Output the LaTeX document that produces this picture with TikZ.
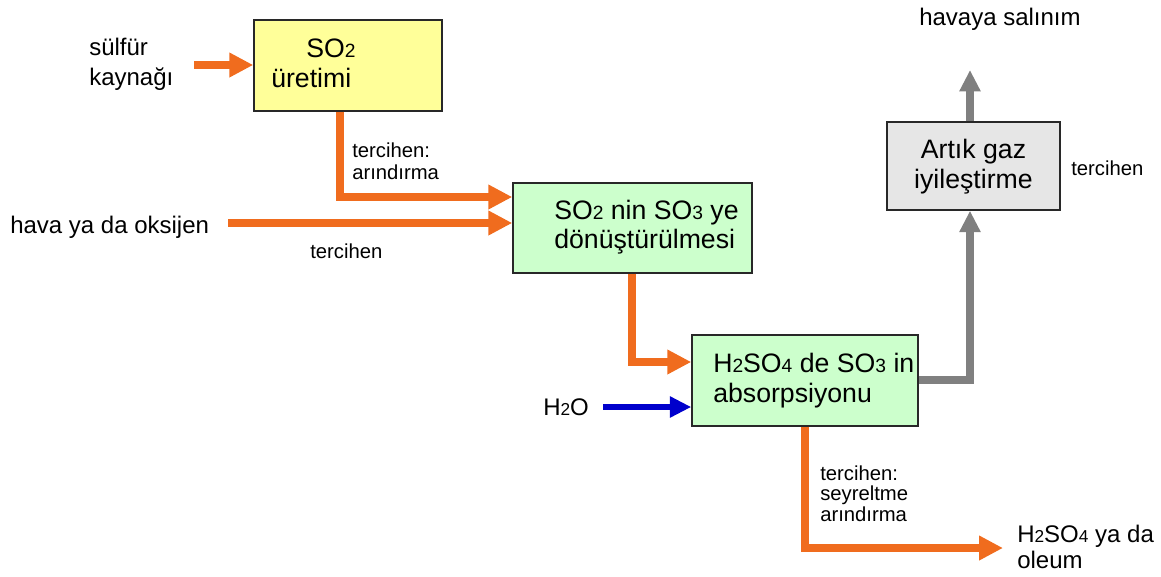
\documentclass[tikz,border=0pt]{standalone}
\usepackage{fontspec}
\setmainfont{Liberation Sans}
\usetikzlibrary{arrows.meta}

\definecolor{flowor}{RGB}{240,108,30}
\definecolor{flowgr}{RGB}{128,128,128}
\definecolor{flowbl}{RGB}{0,0,204}
\definecolor{fillyl}{RGB}{255,255,153}
\definecolor{fillgn}{RGB}{204,255,204}
\definecolor{fillgy}{RGB}{230,230,230}
\definecolor{edgec}{RGB}{40,40,40}

\newcommand\lowsub[1]{\raisebox{-0.5pt}{\scalebox{0.72}{#1}}}

\tikzset{
  procbox/.style={draw=edgec, line width=1.1pt, inner sep=0pt},
  maintxt/.style={anchor=base west, inner sep=0pt, font=\fontsize{18}{22}\selectfont},
  boxtxt/.style={anchor=base west, inner sep=0pt, font=\fontsize{20}{24}\selectfont},
  smalltxt/.style={anchor=base west, inner sep=0pt, font=\fontsize{15.2}{17}\selectfont},
  flow/.style={line width=6.6pt, -{Triangle[length=18pt,width=17.5pt]}},
  oflow/.style={flow, draw=flowor},
  gflow/.style={flow, draw=flowgr, line width=5.4pt, -{Triangle[length=16pt,width=15pt]}},
  bflow/.style={flow, draw=flowbl, line width=4.8pt, -{Triangle[length=16pt,width=15pt]}},
}

\begin{document}
\begin{tikzpicture}[x=0.75pt, y=-0.75pt]
\useasboundingbox (0,0) rectangle (1161,576);

% process boxes
\node[procbox, fill=fillyl, minimum width=141pt, minimum height=68.25pt] (so2) at (348,65.5) {};
\node[procbox, fill=fillgn, minimum width=179.25pt, minimum height=67.5pt] (conv) at (632.5,228) {};
\node[procbox, fill=fillgn, minimum width=169.5pt, minimum height=68.25pt] (absorb) at (805,380.5) {};
\node[procbox, fill=fillgy, minimum width=129.75pt, minimum height=66pt] (tail) at (973.5,166) {};

% box texts
\node[boxtxt] (so2a) at (306,57) {SO\lowsub{2}};
\node[boxtxt] (so2b) at (271,87) {üretimi};
\node[boxtxt] (conva) at (554,219) {SO\lowsub{2} nin SO\lowsub{3} ye};
\node[boxtxt] (convb) at (554,248) {dönüştürülmesi};
\node[boxtxt] (absa) at (713,372) {H\lowsub{2}SO\lowsub{4} de SO\lowsub{3} in};
\node[boxtxt] (absb) at (713,402) {absorpsiyonu};
\node[boxtxt, anchor=base] (taila) at (973.5,158) {Artık gaz};
\node[boxtxt, anchor=base] (tailb) at (973.5,188) {iyileştirme};

% feeds and products
\node[maintxt] (sulf1) at (89,55) {sülfür};
\node[maintxt] (sulf2) at (89,85) {kaynağı};
\node[maintxt] (air) at (10,233) {hava ya da oksijen};
\node[maintxt] (water) at (543,415) {H\lowsub{2}O};
\node[maintxt] (release) at (919,25) {havaya salınım};
\node[maintxt] (prod1) at (1017,542) {H\lowsub{2}SO\lowsub{4} ya da};
\node[maintxt] (prod2) at (1017,568) {oleum};

% side notes
\node[smalltxt] (n1a) at (352,157) {tercihen:};
\node[smalltxt] (n1b) at (352,179) {arındırma};
\node[smalltxt] (n2) at (310,258) {tercihen};
\node[smalltxt] (n3) at (1071,175) {tercihen};
\node[smalltxt] (n4a) at (820,480) {tercihen:};
\node[smalltxt] (n4b) at (820,500) {seyreltme};
\node[smalltxt] (n4c) at (820,521) {arındırma};

% bend points and free ends
\coordinate (sin) at (194,65);
\coordinate (k1) at (340,197);
\coordinate (ain) at (228,223);
\coordinate (k2) at (632,362);
\coordinate (win) at (603,407);
\coordinate (k3) at (970,380);
\coordinate (out) at (970,70);
\coordinate (k4) at (805,548);
\coordinate (pend) at (1003,548);

% connectors
\draw[oflow] (sin) -- (so2.west |- sin);
\draw[oflow] (so2.south -| k1) -- (k1) -- (conv.west |- k1);
\draw[oflow] (ain) -- (conv.west |- ain);
\draw[oflow] (conv.south -| k2) -- (k2) -- (absorb.west |- k2);
\draw[bflow] (win) -- (absorb.west |- win);
\draw[gflow] (absorb.east |- k3) -- (k3) -- (tail.south -| k3);
\draw[gflow] (tail.north -| out) -- (out);
\draw[oflow] (absorb.south -| k4) -- (k4) -- (pend);
\end{tikzpicture}
\end{document}
